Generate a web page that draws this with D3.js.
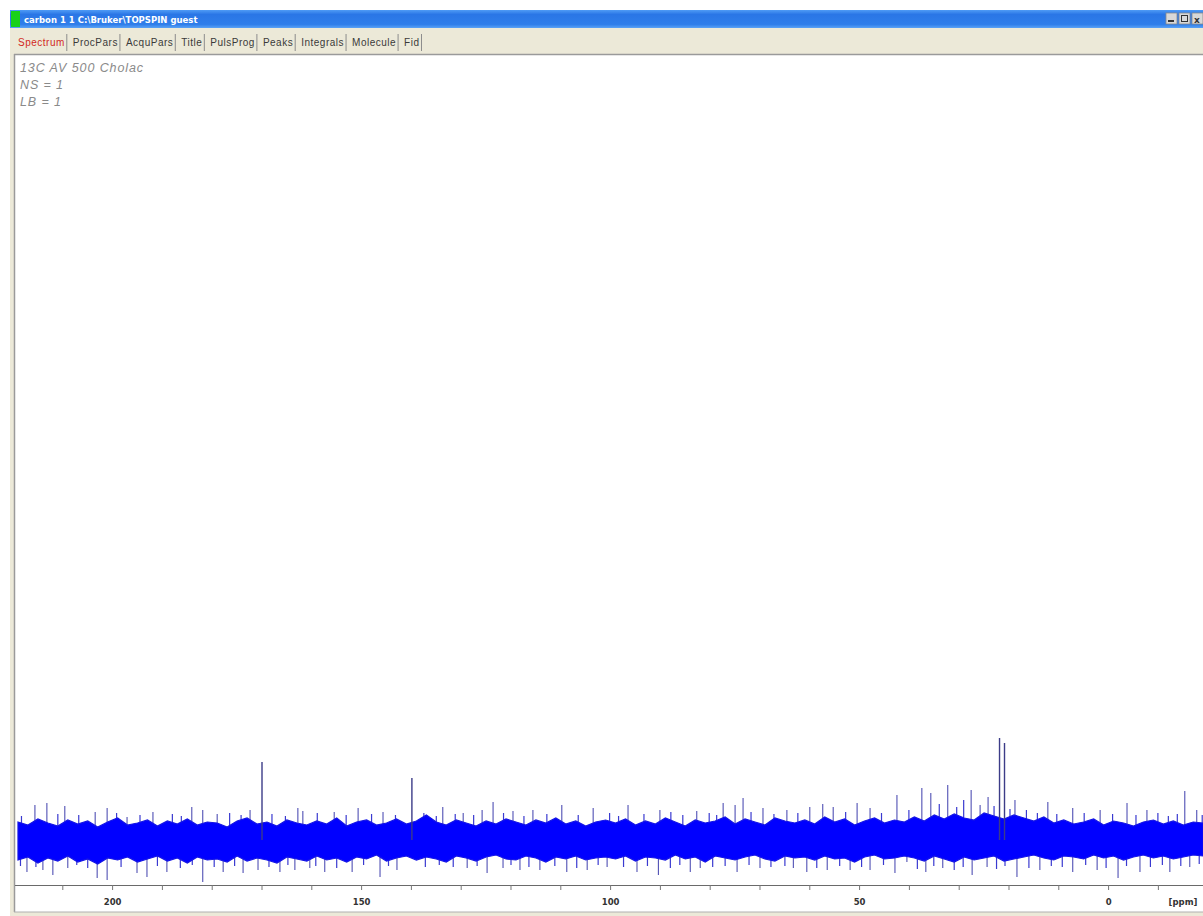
<!DOCTYPE html>
<html>
<head>
<meta charset="utf-8">
<script src="https://cdn.jsdelivr.net/npm/d3@7"></script>
<style>
  body { margin: 0; background: #ffffff; }
  svg { display: block; }
</style>
</head>
<body>
<svg id="spec" width="1203" height="916"></svg>
<script>
// header lines printed in the spectrum window
var headerLines = ["13C AV 500 Cholac", "NS = 1", "LB = 1"];
var tabNames = ["Spectrum", "ProcPars", "AcquPars", "Title", "PulsProg", "Peaks", "Integrals", "Molecule", "Fid"];

// axis ticks (ppm)
var majorTicks = [200, 150, 100, 50, 0];
var minorTicks = [210, 190, 180, 170, 160, 140, 130, 120, 110, 90, 80, 70, 60, 40, 30, 20, 10, -10];

// core noise band, every 2 ppm from 219 down to -19 (arbitrary intensity, baseline 0)
var envHi = [18, 15, 21, 17, 14, 20, 16, 19, 13, 18, 22, 15, 17, 20, 14, 19, 16, 21, 15, 18, 17, 13, 19, 22, 16, 18, 14, 20, 17, 15,
             19, 16, 22, 14, 18, 20, 15, 17, 21, 16, 19, 25, 18, 15, 20, 17, 14, 19, 16, 21, 18, 15, 20, 17, 22, 16, 19, 14, 18, 20,
             17, 21, 15, 19, 16, 22, 18, 14, 20, 17, 19, 23, 16, 21, 18, 15, 22, 19, 17, 20, 16, 23, 18, 21, 15, 19, 22, 17, 20, 18,
             23, 19, 25, 21, 26, 22, 20, 27, 24, 21, 25, 22, 19, 23, 17, 20, 16, 18, 21, 15, 19, 17, 14, 18, 20, 16, 19, 15, 18, 17];
var envLo = [-20, -17, -23, -18, -21, -16, -22, -19, -24, -18, -20, -17, -22, -19, -16, -21, -18, -23, -17, -20, -19, -22, -16, -21, -18, -20, -23, -17, -19, -21,
             -16, -20, -18, -22, -17, -19, -15, -21, -18, -16, -20, -17, -19, -22, -16, -18, -21, -17, -15, -19, -20, -16, -18, -22, -17, -19, -16, -20, -18, -17,
             -19, -16, -21, -17, -18, -20, -15, -19, -17, -22, -16, -18, -20, -17, -15, -19, -21, -16, -18, -17, -20, -16, -19, -18, -22, -17, -15, -19, -18, -16,
             -18, -21, -16, -19, -22, -17, -20, -18, -16, -21, -19, -17, -15, -18, -20, -16, -17, -19, -15, -18, -16, -20, -17, -15, -18, -16, -19, -17, -15, -16];
var envPpm = envHi.map(function (d, i) { return 219 - 2 * i; });

// the taller noise spikes
var upPpm = [215.6, 213.2, 209.6, 203.5, 201.1, 197.1, 191.9, 184.1, 181.9, 179.0, 172.4, 162.8, 161.8, 155.5, 150.7,
             145.7, 133.7, 129.6, 125.8, 123.6, 119.6, 115.6, 109.8, 103.5, 96.5, 90.1, 82.7, 77.4, 75.0, 73.4,
             69.4, 64.6, 60.0, 57.4, 55.3, 50.5, 47.9, 42.5, 37.5, 35.7, 32.3, 27.6, 25.8, 24.2, 18.8,
             12.2, 7.2, 1.7, -3.7, -7.7, -15.3, -17.7];
var upVal = [35, 37, 34, 28, 32, 23, 28, 33, 30, 26, 30, 32, 29, 28, 32,
             28, 33, 27, 30, 38, 29, 30, 35, 32, 35, 30, 29, 37, 35, 42,
             32, 30, 33, 36, 33, 37, 32, 45, 52, 47, 55, 50, 35, 43, 40,
             38, 32, 30, 37, 30, 49, 30];
var dnPpm = [217.2, 214.0, 212.0, 209.0, 203.1, 201.1, 195.1, 193.1, 189.1, 181.9, 177.8, 173.8, 170.8, 166.4, 163.4,
             160.4, 157.4, 151.9, 146.3, 142.9, 139.7, 128.8, 124.8, 121.6, 118.2, 114.2, 108.8, 104.7, 100.7, 94.7,
             90.4, 84.0, 82.0, 74.6, 70.0, 63.3, 60.6, 56.5, 51.9, 47.9, 42.9, 40.5, 36.7, 33.3, 27.4,
             24.4, 18.4, 13.8, 7.2, 2.3, -1.9, -6.3, -12.3, -16.3];
var dnVal = [-32, -30, -35, -28, -38, -40, -33, -37, -32, -42, -32, -33, -30, -32, -30,
             -28, -32, -32, -37, -30, -15, -28, -33, -28, -30, -30, -32, -30, -27, -32,
             -35, -32, -28, -32, -28, -28, -32, -30, -30, -30, -33, -22, -32, -28, -35,
             -27, -37, -30, -32, -30, -38, -32, -32, -27];

// the smaller spikes that make the band edges ragged
var smUpPpm = [218.3, 211.0, 206.8, 199.2, 194.5, 188.0, 186.2, 176.5, 174.2, 168.0, 165.3, 158.9, 153.1, 148.0, 143.2,
               137.5, 135.0, 131.2, 127.5, 121.5, 117.4, 112.8, 106.5, 100.2, 98.4, 93.3, 87.9, 85.5, 80.2, 78.7,
               71.8, 67.2, 62.4, 52.8, 45.6, 40.1, 34.0, 30.5, 29.1, 23.0, 19.8, 16.5, 14.3, 10.4, 4.9,
               -0.8, -5.5, -9.9, -12.0, -13.8, -18.8];
var smUpVal = [24, 26, 25, 27, 25, 26, 24, 27, 25, 26, 24, 27, 25, 26, 25,
               27, 24, 26, 25, 27, 24, 26, 25, 27, 24, 26, 28, 25, 27, 25,
               28, 26, 27, 28, 27, 30, 36, 33, 40, 34, 31, 30, 27, 26, 27,
               26, 25, 27, 24, 26, 25];
var smDnPpm = [218.5, 215.4, 207.2, 205.0, 198.3, 191.0, 186.4, 184.0, 179.6, 175.5, 168.6, 164.8, 159.2, 155.0, 149.6,
               144.6, 137.2, 134.4, 131.6, 126.8, 120.0, 116.4, 111.2, 106.8, 102.5, 97.4, 92.6, 88.0, 86.1, 79.5,
               77.0, 72.2, 67.8, 65.0, 58.6, 54.0, 49.6, 45.2, 38.4, 35.1, 31.0, 29.2, 22.5, 20.8, 16.0,
               11.5, 9.3, 4.6, 0.5, -3.6, -8.4, -10.8, -14.5, -18.2];
var smDnVal = [-26, -27, -25, -28, -27, -26, -28, -25, -27, -26, -27, -25, -26, -28, -25,
               -26, -27, -25, -27, -26, -25, -27, -26, -28, -25, -27, -26, -28, -25, -27,
               -26, -25, -27, -26, -28, -26, -27, -25, -29, -26, -30, -27, -29, -26, -28,
               -26, -27, -25, -28, -26, -27, -25, -26, -24];

// real signals
var peakPpm = [170.0, 139.9, 21.9, 20.9];
var peakVal = [78, 62, 102, 97];

var svg = d3.select("#spec");
var W = 1203, H = 916;

// window chrome
svg.append("rect").attr("x", 10).attr("y", 10).attr("width", W - 10).attr("height", H - 10).attr("fill", "#ece9d8");

var grad = svg.append("defs").append("linearGradient").attr("id", "tb")
    .attr("x1", 0).attr("y1", 0).attr("x2", 0).attr("y2", 1);
grad.append("stop").attr("offset", "0%").attr("stop-color", "#4f9bf5");
grad.append("stop").attr("offset", "25%").attr("stop-color", "#2a76e6");
grad.append("stop").attr("offset", "80%").attr("stop-color", "#2f7eea");
grad.append("stop").attr("offset", "100%").attr("stop-color", "#5aa2f6");
svg.append("rect").attr("x", 10).attr("y", 10).attr("width", W - 10).attr("height", 18).attr("fill", "url(#tb)");
svg.append("rect").attr("x", 11).attr("y", 11).attr("width", 9).attr("height", 16).attr("fill", "#19d119");
svg.append("text").attr("x", 24).attr("y", 23)
    .attr("font-family", "DejaVu Sans").attr("font-size", "8.5px").attr("font-weight", "bold")
    .attr("fill", "#ffffff").text("carbon  1  1  C:\\Bruker\\TOPSPIN  guest");

// window buttons
[1166, 1179, 1192].forEach(function (bx) {
    svg.append("rect").attr("x", bx).attr("y", 13).attr("width", 11).attr("height", 11)
        .attr("fill", "#d8d8d8").attr("stroke", "#8a8a8a").attr("stroke-width", 0.8);
});
svg.append("rect").attr("x", 1168).attr("y", 20).attr("width", 6).attr("height", 2).attr("fill", "#333");
svg.append("rect").attr("x", 1181.5).attr("y", 15.5).attr("width", 6).attr("height", 6).attr("fill", "none").attr("stroke", "#333");
svg.append("text").attr("x", 1194).attr("y", 22.5).attr("font-family", "DejaVu Sans").attr("font-size", "9px")
    .attr("font-weight", "bold").attr("fill", "#333").text("x");

// tabs
var tabX = 18;
tabNames.forEach(function (t, i) {
    var txt = svg.append("text").attr("x", tabX).attr("y", 46)
        .attr("font-family", "Liberation Sans").attr("font-size", "10px").attr("letter-spacing", "0.5px")
        .attr("fill", i === 0 ? "#d22a1e" : "#3a3a3a").text(t);
    var w = txt.node().getComputedTextLength();
    svg.append("line").attr("x1", tabX + w + 2).attr("x2", tabX + w + 2).attr("y1", 34).attr("y2", 51)
        .attr("stroke", "#8c8c8c").attr("stroke-width", 1);
    tabX += w + 8;
});

// plot panel
svg.append("rect").attr("x", 14).attr("y", 54).attr("width", W - 14).attr("height", 858)
    .attr("fill", "#ffffff");
svg.append("line").attr("x1", 14).attr("x2", W).attr("y1", 54.5).attr("y2", 54.5).attr("stroke", "#9a9a9a").attr("stroke-width", 1.5);
svg.append("line").attr("x1", 14.5).attr("x2", 14.5).attr("y1", 54).attr("y2", 912).attr("stroke", "#9a9a9a").attr("stroke-width", 1.5);
svg.append("line").attr("x1", 14).attr("x2", W).attr("y1", 912).attr("y2", 912).attr("stroke", "#b0b0b0").attr("stroke-width", 1);

// scales
var x = d3.scaleLinear().domain([219.6, -19.3]).range([15, 1204.7]);
var y = d3.scaleLinear().domain([-45, 785]).range([885, 55]);

// header text
headerLines.forEach(function (t, i) {
    svg.append("text").attr("x", 20).attr("y", 72 + i * 17)
        .attr("font-family", "Liberation Sans").attr("font-size", "12.5px").attr("font-style", "italic")
        .attr("letter-spacing", "0.9px").attr("fill", "#8a8a8a").text(t);
});

// noise spikes
var g = svg.append("g");
function spikes(ppm, val, color, width) {
    ppm.forEach(function (p, i) {
        g.append("line").attr("x1", x(p)).attr("x2", x(p)).attr("y1", y(0)).attr("y2", y(val[i]))
            .attr("stroke", color).attr("stroke-width", width);
    });
}
spikes(upPpm, upVal, "#5050b4", 1.1);
spikes(dnPpm, dnVal, "#5050b4", 1.1);
spikes(smUpPpm, smUpVal, "#3a3ad0", 1.2);
spikes(smDnPpm, smDnVal, "#3a3ad0", 1.2);

// dense noise band
var band = envPpm.map(function (p, i) { return {ppm: p, hi: envHi[i], lo: envLo[i]}; });
var area = d3.area()
    .x(function (d) { return x(d.ppm); })
    .y0(function (d) { return y(d.lo); })
    .y1(function (d) { return y(d.hi); });
g.append("path").datum(band).attr("fill", "#0000ff").attr("stroke", "#1414e6").attr("stroke-width", 1.2)
    .attr("d", area);

// signals
spikes(peakPpm, peakVal, "#3c3c88", 1.4);

// x axis
var axisY = 885;
svg.append("line").attr("x1", 15).attr("x2", W).attr("y1", axisY + 0.5).attr("y2", axisY + 0.5)
    .attr("stroke", "#6a6a6a").attr("stroke-width", 1.2);
majorTicks.concat(minorTicks).forEach(function (t) {
    svg.append("line").attr("x1", x(t)).attr("x2", x(t)).attr("y1", axisY).attr("y2", axisY + 5)
        .attr("stroke", "#777").attr("stroke-width", 1);
});
majorTicks.forEach(function (t) {
    svg.append("text").attr("x", x(t)).attr("y", 905).attr("text-anchor", "middle")
        .attr("font-family", "DejaVu Sans").attr("font-size", "8.5px").attr("font-weight", "bold")
        .attr("fill", "#333").text(t);
});
svg.append("text").attr("x", 1183).attr("y", 905).attr("text-anchor", "middle")
    .attr("font-family", "DejaVu Sans").attr("font-size", "8.5px").attr("font-weight", "bold")
    .attr("fill", "#333").text("[ppm]");
</script>
</body>
</html>
